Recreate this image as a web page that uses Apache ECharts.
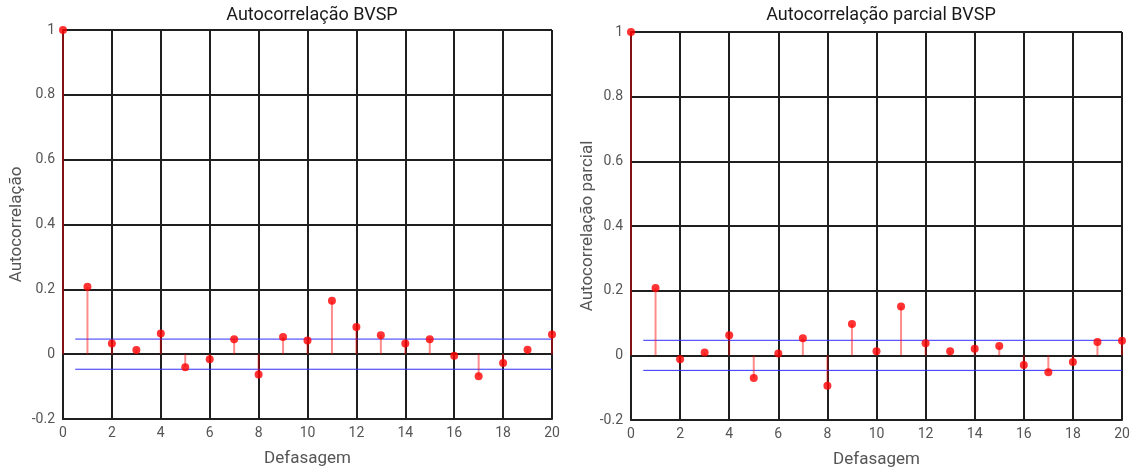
<!DOCTYPE html>
<html>
<head>
<meta charset="utf-8">
<script src="https://cdn.jsdelivr.net/npm/echarts@6/dist/echarts.min.js"></script>
<style>
html,body{margin:0;padding:0;background:#fff;}
#c{width:1131px;height:469px;}
</style>
</head>
<body>
<div id="c"></div>
<script>
const lags = [0,1,2,3,4,5,6,7,8,9,10,11,12,13,14,15,16,17,18,19,20];
const acfValues = [1, 0.208, 0.033, 0.013, 0.064, -0.040, -0.016, 0.046, -0.063, 0.053, 0.042, 0.165, 0.084, 0.058, 0.033, 0.046, -0.005, -0.068, -0.027, 0.014, 0.061];
const pacfValues = [1, 0.208, -0.012, 0.009, 0.062, -0.070, 0.006, 0.053, -0.094, 0.097, 0.013, 0.151, 0.037, 0.013, 0.020, 0.029, -0.030, -0.052, -0.021, 0.041, 0.045];
const acfBound = 0.0465;
const pacfBound = 0.0465;
const boundStart = 0.5;
const boundEnd = 20;
const titles = ['Autocorrelação BVSP', 'Autocorrelação parcial BVSP'];
const yNames = ['Autocorrelação', 'Autocorrelação parcial'];
const xName = 'Defasagem';

const FONT = 'Roboto';
const gridColor = '#1f1f1f';

function xAxis(i) {
  return {
    type: 'value', gridIndex: i, min: 0, max: 20, interval: 2,
    name: xName, nameLocation: 'middle', nameGap: 31,
    nameTextStyle: {color: '#555', fontSize: 17, fontFamily: FONT},
    axisLine: {show: true, onZero: false, lineStyle: {color: gridColor, width: 2}},
    axisTick: {show: false},
    axisLabel: {color: '#555', fontSize: 14, fontFamily: FONT, margin: 7},
    splitLine: {show: true, lineStyle: {color: gridColor, width: 2}}
  };
}
function yAxis(i) {
  return {
    type: 'value', gridIndex: i, min: -0.2, max: 1, interval: 0.2,
    name: yNames[i], nameLocation: 'middle', nameGap: i === 0 ? 38 : 35,
    nameTextStyle: {color: '#555', fontSize: 17, fontFamily: FONT},
    axisLine: {show: true, onZero: false, lineStyle: {color: gridColor, width: 2}},
    axisTick: {show: false},
    axisLabel: {color: '#555', fontSize: 14, fontFamily: FONT, margin: 8},
    splitLine: {show: true, lineStyle: {color: gridColor, width: 2}}
  };
}
function stems(i, vals) {
  return {
    type: 'custom', xAxisIndex: i, yAxisIndex: i, z: 3,
    data: lags.map((l, k) => [l, vals[k]]),
    renderItem: function (params, api) {
      const p0 = api.coord([api.value(0), 0]);
      const p1 = api.coord([api.value(0), api.value(1)]);
      return {type: 'line', shape: {x1: p0[0], y1: p0[1], x2: p1[0], y2: p1[1]},
        style: {stroke: 'rgba(255,0,0,0.45)', lineWidth: 2}};
    }
  };
}
function points(i, vals) {
  return {
    type: 'scatter', xAxisIndex: i, yAxisIndex: i, z: 4, clip: false,
    symbol: 'circle', symbolSize: 8, itemStyle: {color: '#ff0000'},
    data: lags.map((l, k) => [l, vals[k]])
  };
}
function bound(i, v) {
  return {
    type: 'line', xAxisIndex: i, yAxisIndex: i, z: 2, symbol: 'none', silent: true,
    lineStyle: {color: '#3030ff', width: 1},
    data: [[boundStart, v], [boundEnd, v]]
  };
}

const chart = echarts.init(document.getElementById('c'));
chart.setOption({
  animation: false,
  backgroundColor: '#fff',
  title: [
    {text: titles[0], left: 307, top: 1, textAlign: 'center',
      textStyle: {fontSize: 18, fontWeight: 'normal', color: '#1a1a1a', fontFamily: FONT}},
    {text: titles[1], left: 876, top: 1, textAlign: 'center',
      textStyle: {fontSize: 18, fontWeight: 'normal', color: '#1a1a1a', fontFamily: FONT}}
  ],
  grid: [
    {left: 63, right: 579, top: 30, bottom: 50, outerBoundsMode: 'none', containLabel: false},
    {left: 631, right: 9, top: 32, bottom: 49, outerBoundsMode: 'none', containLabel: false}
  ],
  xAxis: [xAxis(0), xAxis(1)],
  yAxis: [yAxis(0), yAxis(1)],
  series: [
    bound(0, acfBound), bound(0, -acfBound),
    stems(0, acfValues), points(0, acfValues),
    bound(1, pacfBound), bound(1, -pacfBound),
    stems(1, pacfValues), points(1, pacfValues)
  ]
});
</script>
</body>
</html>
